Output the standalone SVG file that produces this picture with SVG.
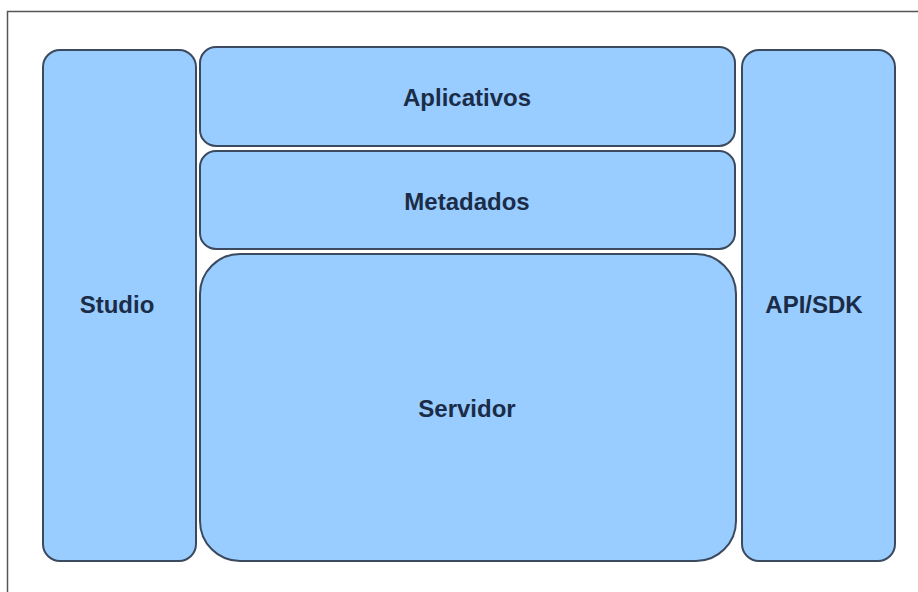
<svg xmlns="http://www.w3.org/2000/svg" width="918" height="592" viewBox="0 0 918 592">
<style>
.box{fill:#99CCFF;stroke:#3b4a5e;stroke-width:2}
.lbl{font-family:"Liberation Sans",Arial,sans-serif;font-weight:bold;font-size:24px;fill:#1b2c48;text-anchor:middle}
</style>
<rect x="0" y="0" width="918" height="592" fill="#ffffff"/>
<path d="M7.5 600 V11.5 H930" fill="none" stroke="#555555" stroke-width="1.5"/>
<g id="studio">
<rect class="box" x="43" y="50" width="153" height="511" rx="17"/>
<text class="lbl" x="117" y="313">Studio</text>
</g>
<g id="aplicativos">
<rect class="box" x="200" y="47" width="535" height="99" rx="16"/>
<text class="lbl" x="467" y="106">Aplicativos</text>
</g>
<g id="metadados">
<rect class="box" x="200" y="151" width="535" height="98" rx="16"/>
<text class="lbl" x="467" y="210">Metadados</text>
</g>
<g id="servidor">
<rect class="box" x="200" y="254" width="536" height="307" rx="40"/>
<text class="lbl" x="467" y="417">Servidor</text>
</g>
<g id="apisdk">
<rect class="box" x="742" y="50" width="153" height="511" rx="17"/>
<text class="lbl" x="814" y="313">API/SDK</text>
</g>
<g id="connectors"></g>
</svg>
